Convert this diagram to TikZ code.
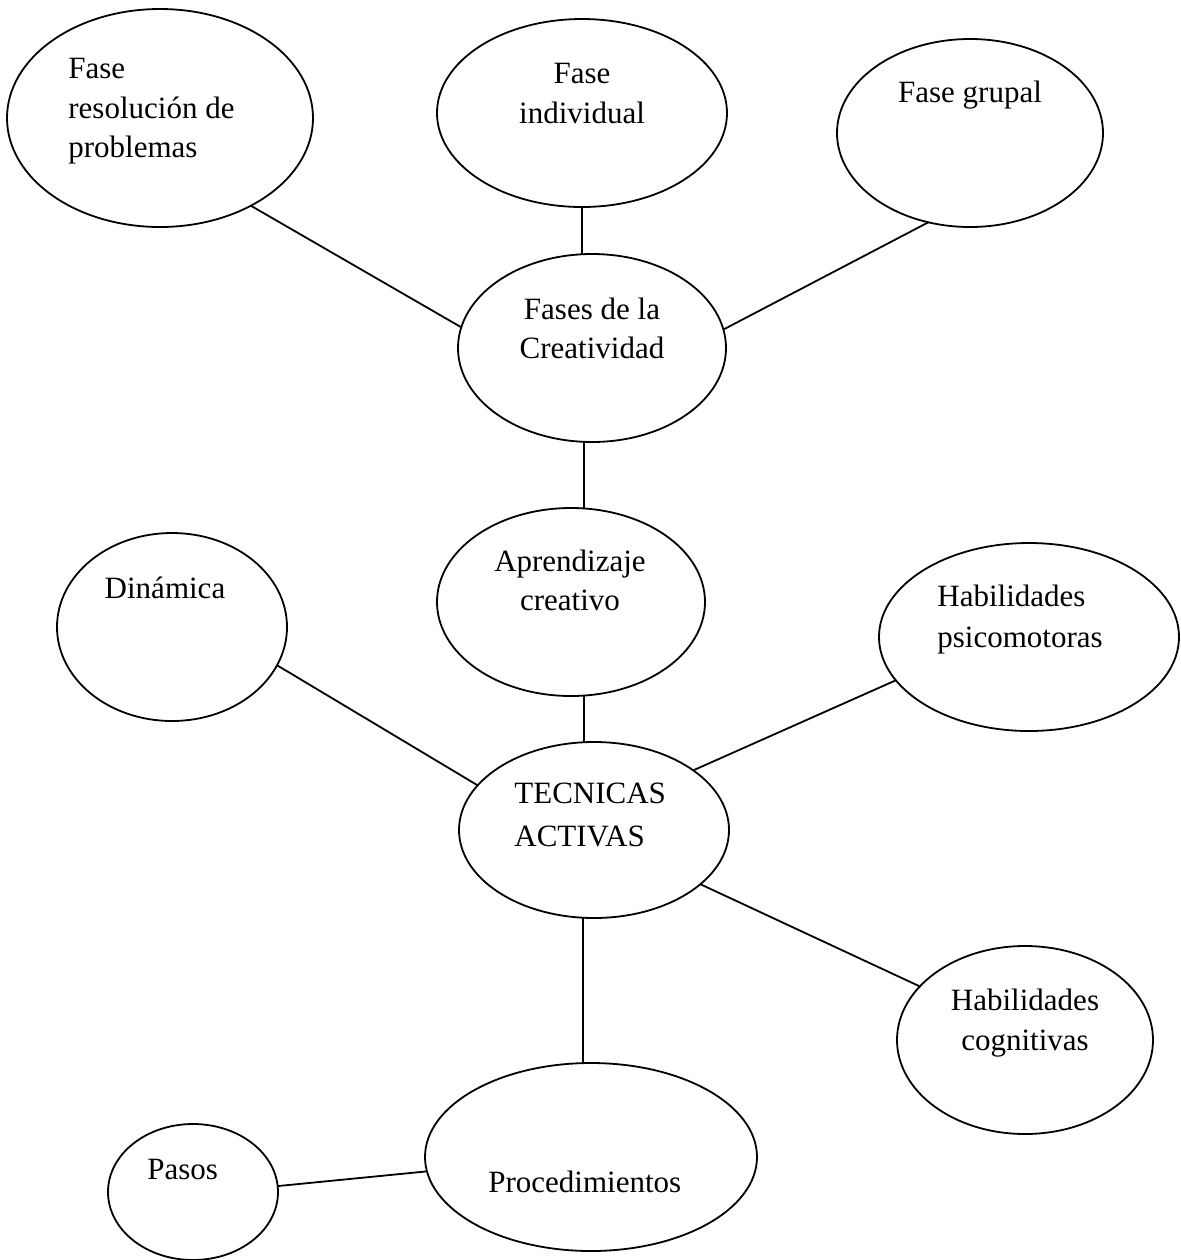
\documentclass[tikz,border=0pt]{standalone}
\usepackage{fontspec}
\setmainfont{Liberation Serif}
\usetikzlibrary{shapes.geometric}
\tikzset{
  bub/.style={ellipse, draw, line width=0.9pt, inner sep=0pt, outer sep=0pt},
  lbl/.style={font=\fontsize{15.5}{20}\selectfont, inner sep=0pt},
  link/.style={line width=0.9pt}
}
\begin{document}
\begin{tikzpicture}[x=0.5pt,y=-0.5pt]
\useasboundingbox (0,0) rectangle (1180,1260);
% ellipses
\node[bub, minimum width=153pt, minimum height=109pt] (e1) at (160,118) {};
\node[bub, minimum width=145pt, minimum height=94pt] (e2) at (582,113) {};
\node[bub, minimum width=133pt, minimum height=94pt] (e3) at (970,133) {};
\node[bub, minimum width=134pt, minimum height=94pt] (e4) at (592,348) {};
\node[bub, minimum width=134pt, minimum height=94pt] (e5) at (571,602) {};
\node[bub, minimum width=115pt, minimum height=94pt] (e6) at (172,627) {};
\node[bub, minimum width=150pt, minimum height=94pt] (e7) at (1029,637) {};
\node[bub, minimum width=135pt, minimum height=88pt] (e8) at (594,830) {};
\node[bub, minimum width=128pt, minimum height=94pt] (e9) at (1025,1040) {};
\node[bub, minimum width=166pt, minimum height=94pt] (e10) at (591,1157) {};
\node[bub, minimum width=85pt, minimum height=68pt] (e11) at (193,1192) {};
% texts
\node[lbl, anchor=base west] (t1a) at (68,78) {Fase};
\node[lbl, anchor=base west] (t1b) at (68,118) {resolución de};
\node[lbl, anchor=base west] (t1c) at (68,157) {problemas};
\node[lbl, anchor=base] (t2a) at (582,83) {Fase};
\node[lbl, anchor=base] (t2b) at (582,123) {individual};
\node[lbl, anchor=base] (t3) at (970,102) {Fase grupal};
\node[lbl, anchor=base] (t4a) at (592,319) {Fases de la};
\node[lbl, anchor=base] (t4b) at (592,358) {Creatividad};
\node[lbl, anchor=base] (t5a) at (570,571) {Aprendizaje};
\node[lbl, anchor=base] (t5b) at (570,610) {creativo};
\node[lbl, anchor=base] (t6) at (165,598) {Dinámica};
\node[lbl, anchor=base west] (t7a) at (937,606) {Habilidades};
\node[lbl, anchor=base west] (t7b) at (937,647) {psicomotoras};
\node[lbl, anchor=base west] (t8a) at (514,803) {TECNICAS};
\node[lbl, anchor=base west] (t8b) at (514,846) {ACTIVAS};
\node[lbl, anchor=base] (t9a) at (1025,1010) {Habilidades};
\node[lbl, anchor=base] (t9b) at (1025,1050) {cognitivas};
\node[lbl, anchor=base west] (t10) at (488,1192) {Procedimientos};
\node[lbl, anchor=base west] (t11) at (147,1179) {Pasos};
% connectors
\draw[link] (e1.-44.7) -- (e4.171.4);
\draw[link] (e2.south) -- (e2.south |- e4.north);
\draw[link] (e3.245.4) -- (e4.8.9);
\draw[link] (e4.-95.5) -- (e4.-95.5 |- e5.north);
\draw[link] (e5.-82.7) -- (e5.-82.7 |- e8.north);
\draw[link] (e6.-20.9) -- (e8.159.4);
\draw[link] (e7.198.4) -- (e8.31.2);
\draw[link] (e8.-27.6) -- (e9.153);
\draw[link] (e8.-97) -- (e8.-97 |- e10.north);
\draw[link] (e11.4) -- (e10.185.5);
\end{tikzpicture}
\end{document}
